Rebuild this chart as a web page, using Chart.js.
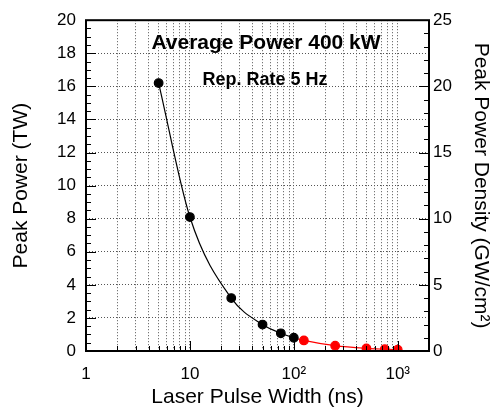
<!DOCTYPE html>
<html>
<head>
<meta charset="utf-8">
<script src="https://cdn.jsdelivr.net/npm/chart.js@4/dist/chart.umd.min.js"></script>
<style>
  body { margin: 0; background: #fff; }
  #wrap { width: 498px; height: 411px; position: relative; }
</style>
</head>
<body>
<div id="wrap"><canvas id="chart"></canvas></div>
<script>
// pulse width (ns) and peak power (TW)
const pulseWidth = [5, 10, 25, 50, 75, 100, 125, 250, 500, 750, 1000];
const peakPower = [16.2, 8.1, 3.2, 1.6, 1.07, 0.8, 0.64, 0.32, 0.16, 0.11, 0.08];
// first index drawn in red
const redFrom = 6;

const xMajorTicks = [1, 10, 100, 1000];
const xTickLabels = ['1', '10', '10\u00b2', '10\u00b3'];
const xMin = 1, xMax = 2000;
const yTicks = [0, 2, 4, 6, 8, 10, 12, 14, 16, 18, 20];
const y2Ticks = [0, 5, 10, 15, 20, 25];

const noteLines = ['Average Power 400 kW', 'Rep. Rate 5 Hz'];

const FONT = "'Liberation Sans', Arial, sans-serif";
const BLACK = '#000';
const RED = '#ff0000';

const pts = pulseWidth.map((x, i) => ({ x: x, y: peakPower[i] }));
const colors = pulseWidth.map((x, i) => i >= redFrom ? RED : BLACK);

// minor log ticks 1..9 x 10^n
function logTicks(min, max) {
  const out = [];
  for (let e = 0; Math.pow(10, e) <= max; e++) {
    for (let s = 1; s < 10; s++) {
      const v = s * Math.pow(10, e);
      if (v >= min && v <= max) out.push(v);
    }
  }
  return out;
}

const framePlugin = {
  id: 'frame',
  afterDraw(chart) {
    const { ctx, chartArea: a, scales } = chart;
    ctx.save();
    ctx.strokeStyle = '#000';
    ctx.lineWidth = 1;
    // bottom ticks, inward
    scales.x.ticks.forEach(t => {
      const px = Math.round(scales.x.getPixelForValue(t.value)) + 0.5;
      const len = xMajorTicks.includes(t.value) ? 10 : 5;
      ctx.beginPath(); ctx.moveTo(px, a.bottom); ctx.lineTo(px, a.bottom - len); ctx.stroke();
    });
    // left ticks every 0.5
    const ys = scales.y;
    for (let v = ys.min; v <= ys.max + 1e-9; v += 0.5) {
      const py = Math.round(ys.getPixelForValue(v)) + 0.5;
      const len = (Math.abs(v % 2) < 1e-9) ? 10 : 5;
      ctx.beginPath(); ctx.moveTo(a.left, py); ctx.lineTo(a.left + len, py); ctx.stroke();
    }
    // right ticks every 1
    const y2 = scales.y2;
    for (let v = y2.min; v <= y2.max + 1e-9; v += 1) {
      const py = Math.round(y2.getPixelForValue(v)) + 0.5;
      const len = (v % 5 === 0) ? 10 : 5;
      ctx.beginPath(); ctx.moveTo(a.right, py); ctx.lineTo(a.right - len, py); ctx.stroke();
    }
    // frame
    ctx.lineWidth = 2;
    ctx.strokeRect(a.left, a.top, a.right - a.left, a.bottom - a.top);
    // notes
    ctx.fillStyle = '#000';
    ctx.textAlign = 'center';
    ctx.textBaseline = 'middle';
    ctx.font = 'bold 21px ' + FONT;
    ctx.fillText(noteLines[0], 266, 43);
    ctx.font = 'bold 18px ' + FONT;
    ctx.fillText(noteLines[1], 265, 80);
    ctx.restore();
  }
};

const gridStyle = {
  color: '#555',
  lineWidth: 1,
  drawTicks: false
};

new Chart(document.getElementById('chart'), {
  type: 'line',
  data: {
    datasets: [{
      data: pts,
      borderColor: BLACK,
      borderWidth: 1.2,
      pointBackgroundColor: colors,
      pointBorderColor: colors,
      pointRadius: 4.3,
      pointHoverRadius: 4.3,
      cubicInterpolationMode: 'monotone',
      fill: false,
      segment: {
        borderColor: c => c.p1DataIndex >= redFrom ? RED : BLACK
      }
    }]
  },
  options: {
    responsive: true,
    maintainAspectRatio: false,
    animation: false,
    events: [],
    layout: { padding: { top: 14, left: 0, right: 0, bottom: 0 } },
    plugins: { legend: { display: false }, tooltip: { enabled: false } },
    scales: {
      x: {
        type: 'logarithmic',
        min: xMin,
        max: xMax,
        afterBuildTicks: s => {
          s.ticks = logTicks(xMin, xMax).map(v => ({ value: v, major: xMajorTicks.includes(v) }));
        },
        afterFit: s => { s.height = 60; },
        grid: Object.assign({}, gridStyle),
        border: { display: false, dash: [1, 2] },
        ticks: {
          autoSkip: false,
          maxRotation: 0,
          padding: 13,
          color: '#000',
          font: { family: FONT, size: 17 },
          callback: v => {
            const i = xMajorTicks.indexOf(v);
            return i >= 0 ? xTickLabels[i] : '';
          }
        },
        title: {
          display: true,
          text: 'Laser Pulse Width (ns)',
          color: '#000',
          font: { family: FONT, size: 21 },
          padding: { top: 0, bottom: 1 }
        }
      },
      y: {
        position: 'left',
        min: 0,
        max: 20,
        afterBuildTicks: s => { s.ticks = yTicks.map(v => ({ value: v })); },
        afterFit: s => { s.width = 86; },
        grid: Object.assign({}, gridStyle),
        border: { display: false, dash: [1, 2] },
        ticks: {
          padding: 10,
          color: '#000',
          font: { family: FONT, size: 17 }
        },
        title: {
          display: true,
          text: 'Peak Power (TW)',
          color: '#000',
          font: { family: FONT, size: 21 },
          padding: { top: 9, bottom: 0 }
        }
      },
      y2: {
        position: 'right',
        min: 0,
        max: 25,
        afterBuildTicks: s => { s.ticks = y2Ticks.map(v => ({ value: v })); },
        afterFit: s => { s.width = 69; },
        grid: { display: false, drawTicks: false },
        border: { display: false },
        ticks: {
          padding: 4,
          color: '#000',
          font: { family: FONT, size: 17 }
        },
        title: {
          display: true,
          text: 'Peak Power Density (GW/cm\u00b2)',
          color: '#000',
          font: { family: FONT, size: 21 },
          padding: { top: 5, bottom: 0 }
        }
      }
    }
  },
  plugins: [framePlugin]
});
</script>
</body>
</html>
